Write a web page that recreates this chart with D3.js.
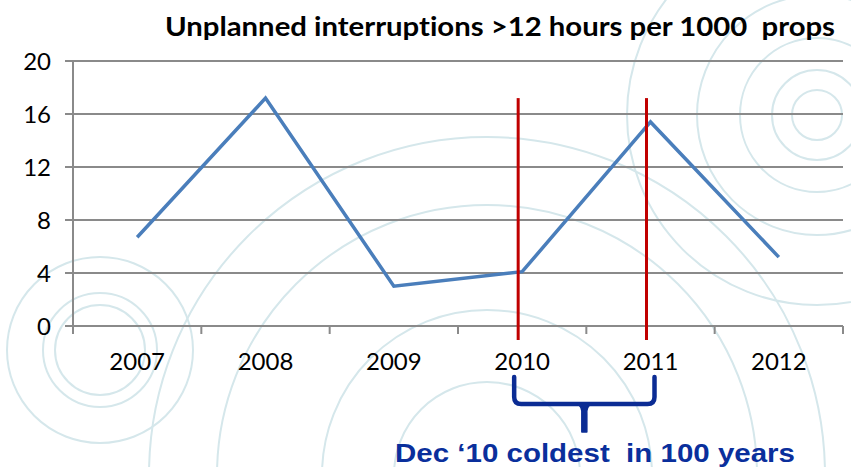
<!DOCTYPE html>
<html lang="en">
<head>
<meta charset="UTF-8">
<title>Unplanned interruptions</title>
<script src="https://d3js.org/d3.v7.min.js"></script>
<style>
    body { margin: 0; background: #fff; }
    svg { display: block; }
    text { font-variant-ligatures: none; }
    .tick-label { font-family: Lato, "Open Sans", sans-serif; font-size: 24px; fill: #000; }
    .title { font-family: Lato, "Open Sans", sans-serif; font-weight: bold; font-size: 26px; fill: #000; white-space: pre; }
    .note { font-family: "Liberation Sans", Arial, sans-serif; font-weight: bold; font-size: 26px; fill: #0a2f9c; white-space: pre; }
</style>
</head>
<body>
<div id="chart"></div>
<script>
// data
const years = ["2007", "2008", "2009", "2010", "2011", "2012"];
const interruptions = [6.7, 17.2, 3.0, 4.1, 15.4, 5.2];
const yTicks = [0, 4, 8, 12, 16, 20];
const coldYears = ["2010", "2011"];
const coldLineTop = 17.2;
const titleText = "Unplanned interruptions >12 hours per 1000  props";
const noteText = "Dec \u201810 coldest  in 100 years";

const W = 851, H = 467;
const margin = {top: 61, right: 8, bottom: 141, left: 73};

const svg = d3.select("#chart").append("svg")
    .attr("width", W)
    .attr("height", H);

// background rings (decoration)
const ringSets = [
    {cx: 100, cy: 350, radii: [45, 57, 93]},
    {cx: 487, cy: 475, radii: [93, 165, 270, 338]},
    {cx: 817, cy: 115, radii: [25, 45, 77, 120, 190]}
];
const rings = svg.append("g");
ringSets.forEach(s => {
    rings.selectAll(null)
        .data(s.radii)
        .enter().append("circle")
        .attr("cx", s.cx)
        .attr("cy", s.cy)
        .attr("r", d => d)
        .attr("fill", "none")
        .attr("stroke", "#d5e7eb")
        .attr("stroke-width", 2);
});

const x = d3.scaleBand()
    .domain(years)
    .range([margin.left, W - margin.right]);

const y = d3.scaleLinear()
    .domain([0, 20])
    .range([H - margin.bottom, margin.top]);

const cx = d => x(d) + x.bandwidth() / 2;

// gridlines
svg.append("g").selectAll("line")
    .data(yTicks)
    .enter().append("line")
    .attr("x1", margin.left - 8)
    .attr("x2", W - margin.right)
    .attr("y1", d => y(d))
    .attr("y2", d => y(d))
    .attr("stroke", "#8a8a8a")
    .attr("stroke-width", 2);

// y axis line
svg.append("line")
    .attr("x1", margin.left).attr("x2", margin.left)
    .attr("y1", y(20)).attr("y2", y(0) + 8)
    .attr("stroke", "#8a8a8a")
    .attr("stroke-width", 2);

// x ticks at category boundaries
const bounds = years.map(d => x(d)).concat([x(years[years.length - 1]) + x.bandwidth()]);
svg.append("g").selectAll("line")
    .data(bounds.slice(1))
    .enter().append("line")
    .attr("x1", d => d).attr("x2", d => d)
    .attr("y1", y(0)).attr("y2", y(0) + 8)
    .attr("stroke", "#8a8a8a")
    .attr("stroke-width", 2);

// y labels
svg.append("g").selectAll("text")
    .data(yTicks)
    .enter().append("text")
    .attr("class", "tick-label")
    .attr("x", margin.left - 22)
    .attr("y", d => y(d))
    .attr("dy", "0.36em")
    .attr("text-anchor", "end")
    .text(d => d);

// x labels
svg.append("g").selectAll("text")
    .data(years)
    .enter().append("text")
    .attr("class", "tick-label")
    .attr("x", d => cx(d))
    .attr("y", y(0) + 44)
    .attr("text-anchor", "middle")
    .text(d => d);

// series line
const line = d3.line()
    .x((d, i) => cx(years[i]))
    .y(d => y(d));

svg.append("path")
    .datum(interruptions)
    .attr("fill", "none")
    .attr("stroke", "#4a7ebb")
    .attr("stroke-width", 3.5)
    .attr("stroke-linejoin", "miter")
    .attr("d", line);

// red markers for the cold winter
svg.append("g").selectAll("line")
    .data(coldYears)
    .enter().append("line")
    .attr("x1", d => cx(d) - 4)
    .attr("x2", d => cx(d) - 4)
    .attr("y1", y(coldLineTop))
    .attr("y2", y(0) + 14)
    .attr("stroke", "#c00000")
    .attr("stroke-width", 3);

// brace under 2010-2011
const bl = cx(coldYears[0]) - 8, br = cx(coldYears[1]) + 4;
const bm = (bl + br) / 2;
const bTop = y(0) + 51, bBar = y(0) + 78, bTip = y(0) + 106, rr = 7;
svg.append("path")
    .attr("d", `M${bl},${bTop} V${bBar - rr} Q${bl},${bBar} ${bl + rr},${bBar} H${br - rr} Q${br},${bBar} ${br},${bBar - rr} V${bTop}`)
    .attr("fill", "none")
    .attr("stroke", "#0b2c94")
    .attr("stroke-width", 4.5)
    .attr("stroke-linecap", "round");
svg.append("path")
    .attr("d", `M${bm - 7},${bBar} Q${bm - 2},${bBar + 2} ${bm - 2.5},${bBar + 10} L${bm - 2.5},${bTip} L${bm + 2.5},${bTip} L${bm + 2.5},${bBar + 10} Q${bm + 2},${bBar + 2} ${bm + 7},${bBar} Z`)
    .attr("fill", "#0b2c94")
    .attr("stroke", "#0b2c94")
    .attr("stroke-width", 1.5)
    .attr("stroke-linejoin", "round");

// title
svg.append("text")
    .attr("class", "title")
    .attr("x", 165)
    .attr("y", 36)
    .attr("textLength", 670)
    .attr("lengthAdjust", "spacingAndGlyphs")
    .text(titleText);

// annotation
svg.append("text")
    .attr("class", "note")
    .attr("x", 395)
    .attr("y", 462)
    .attr("textLength", 400)
    .attr("lengthAdjust", "spacingAndGlyphs")
    .text(noteText);
</script>
</body>
</html>
